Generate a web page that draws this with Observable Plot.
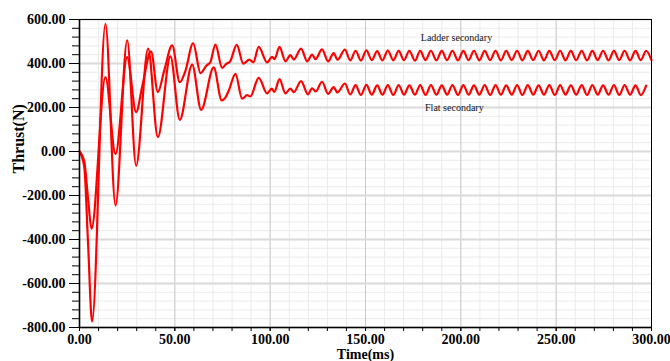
<!DOCTYPE html>
<html>
<head>
<meta charset="utf-8">
<script src="https://cdn.jsdelivr.net/npm/d3@7"></script>
<script src="https://cdn.jsdelivr.net/npm/@observablehq/plot@0.6"></script>
<style>
  html, body { margin: 0; padding: 0; background: white; }
  svg { display: block; }
</style>
</head>
<body>
<div id="chart"></div>
<script>
// Ladder secondary (upper curve): time (ms) and thrust (N)
const ladderT = [0, 2.5, 4.5, 6.3, 13.6, 18.9, 25.0, 29.7, 33.0, 37.5, 41.1, 44.5, 48.6, 52.6, 55.6, 59.6, 63.5, 66.5, 68.6, 71.3, 74.8, 77.0, 79.0, 82.5, 85.9, 89.0, 91.2, 94.0, 98.4, 101.0, 102.3, 104.9, 108.0, 110.6, 112.4, 116.2, 119.4, 122.0, 123.8, 127.2, 130.4, 133.3, 135.3, 139.2,
  142.0, 144.8, 147.6, 150.5, 153.3, 156.1, 158.9, 161.7, 164.6, 167.4, 170.2, 173.0, 175.9, 178.7, 181.5, 184.3, 187.2, 190.0, 192.8, 195.6, 198.5, 201.3, 204.1, 206.9, 209.7, 212.5, 215.4, 218.2, 221.0, 223.8, 226.7, 229.5, 232.3, 235.1, 238.0, 240.8, 243.6, 246.4, 249.3, 252.1, 254.9, 257.7, 260.5, 263.4, 266.2, 269.0, 271.8, 274.6, 277.5, 280.3, 283.1, 285.9, 288.8, 291.6, 294.4, 297.2, 300.0];
const ladderV = [0, -45, -215, -351, 338, -11, 429, 179, 300, 455, 270, 370, 482, 315, 368, 492, 356, 390, 406, 486, 380, 398, 410, 485, 399, 418, 406, 476, 405, 430, 420, 476, 410, 438, 418, 468, 410, 440, 420, 464, 410, 447, 417, 463,
  414, 458, 413, 460, 415, 456, 414, 459, 414, 457, 415, 458, 413, 457, 415, 458, 414, 457, 415, 458, 414, 457, 415, 458, 414, 457, 415, 458, 414, 457, 415, 458, 414, 457, 415, 458, 414, 457, 415, 458, 414, 457, 415, 458, 414, 457, 415, 458, 414, 457, 415, 458, 414, 457, 415, 458, 415];

// Flat secondary (lower curve)
const flatT = [0, 2.5, 4.5, 6.6, 13.6, 18.9, 25.0, 29.7, 36.0, 41.1, 47.7, 52.6, 59.1, 63.8, 70.4, 74.6, 76.5, 78.3, 81.8, 85.3, 87.9, 89.6, 94.0, 98.4, 100.8, 102.2, 104.9, 108.0, 110.6, 112.4, 116.2, 119.8, 122.0, 123.9, 127.2, 130.4, 133.3, 135.2, 139.2,
  142.0, 144.8, 147.6, 150.5, 153.3, 156.1, 158.9, 161.7, 164.6, 167.4, 170.2, 173.0, 175.9, 178.7, 181.5, 184.3, 187.2, 190.0, 192.8, 195.6, 198.5, 201.3, 204.1, 206.9, 209.7, 212.5, 215.4, 218.2, 221.0, 223.8, 226.7, 229.5, 232.3, 235.1, 238.0, 240.8, 243.6, 246.4, 249.3, 252.1, 254.9, 257.7, 260.5, 263.4, 266.2, 269.0, 271.8, 274.6, 277.5, 280.3, 283.1, 285.9, 288.8, 291.6, 294.4, 297.2];
const flatV = [0, -70, -420, -773, 580, -245, 505, -64, 468, 65, 432, 144, 395, 189, 382, 232, 245, 277, 353, 240, 256, 250, 335, 264, 286, 271, 329, 264, 286, 270, 320, 260, 287, 273, 317, 262, 293, 268, 309,
  259, 302, 257, 303, 258, 301, 258, 302, 257, 302, 258, 301, 258, 302, 257, 302, 258, 301, 258, 302, 257, 302, 258, 301, 258, 302, 257, 302, 258, 301, 258, 302, 257, 302, 258, 301, 258, 302, 257, 302, 258, 301, 258, 302, 257, 302, 258, 301, 258, 302, 257, 302, 258, 301, 256, 299];

// Annotations
const noteText = ["Ladder secondary", "Flat secondary"];
const noteX = [197.7, 196.6];
const noteY = [518, 198];

// Axis ticks
const xTicks = [0, 50, 100, 150, 200, 250, 300];
const yTicks = [-800, -600, -400, -200, 0, 200, 400, 600];
const xMinor = d3.range(0, 301, 10);
const yMinor = d3.range(-800, 601, 40);

const ladder = ladderT.map((t, i) => ({t, v: ladderV[i]}));
const flat = flatT.map((t, i) => ({t, v: flatV[i]}));
const notes = noteText.map((s, i) => ({s, x: noteX[i], y: noteY[i]}));
const fmt = d => d.toFixed(2);

const chart = Plot.plot({
  width: 670,
  height: 361,
  marginLeft: 79,
  marginRight: 19,
  marginTop: 19,
  marginBottom: 34,
  style: {fontFamily: "'Liberation Serif', 'Times New Roman', serif", background: "white", color: "black"},
  x: {domain: [0, 300], label: null},
  y: {domain: [-800, 600], label: null},
  marks: [
    Plot.gridX({ticks: xMinor, stroke: "#ebebeb", strokeOpacity: 1}),
    Plot.gridY({ticks: yMinor, stroke: "#ebebeb", strokeOpacity: 1}),
    Plot.gridX({ticks: xTicks, stroke: "#cacaca", strokeOpacity: 1}),
    Plot.gridY({ticks: yTicks, stroke: "#dadada", strokeOpacity: 1, strokeWidth: 2}),
    Plot.lineY(ladder, {x: "t", y: "v", stroke: "#ff0000", strokeWidth: 2.2, curve: "monotone-x"}),
    Plot.lineY(flat, {x: "t", y: "v", stroke: "#ff0000", strokeWidth: 2.2, curve: "monotone-x"}),
    Plot.frame({stroke: "black"}),
    Plot.ruleX([0], {stroke: "black", strokeWidth: 1.6}),
    Plot.ruleY([-800], {stroke: "black", strokeWidth: 1.6}),
    Plot.axisX({ticks: xMinor, tickSize: 4, tickFormat: () => "", label: null}),
    Plot.axisX({ticks: xTicks, tickSize: 4, tickPadding: 3, tickFormat: fmt, fontSize: 14, fontWeight: "bold", label: null}),
    Plot.axisY({ticks: yMinor, tickSize: 7, tickFormat: () => "", label: null}),
    Plot.axisY({ticks: yTicks, tickSize: 10, tickPadding: 4, tickFormat: fmt, fontSize: 14, fontWeight: "bold", label: null}),
    Plot.text(notes, {x: "x", y: "y", text: "s", fontSize: 10, fill: "#111"}),
    Plot.text(["Time(ms)"], {text: d => d, frameAnchor: "bottom", dy: 31, fontSize: 14, fontWeight: "bold"}),
    Plot.text(["Thrust(N)"], {text: d => d, frameAnchor: "left", dx: -61, rotate: -90, fontSize: 16, fontWeight: "bold"})
  ]
});
document.getElementById("chart").appendChild(chart);
</script>
</body>
</html>
